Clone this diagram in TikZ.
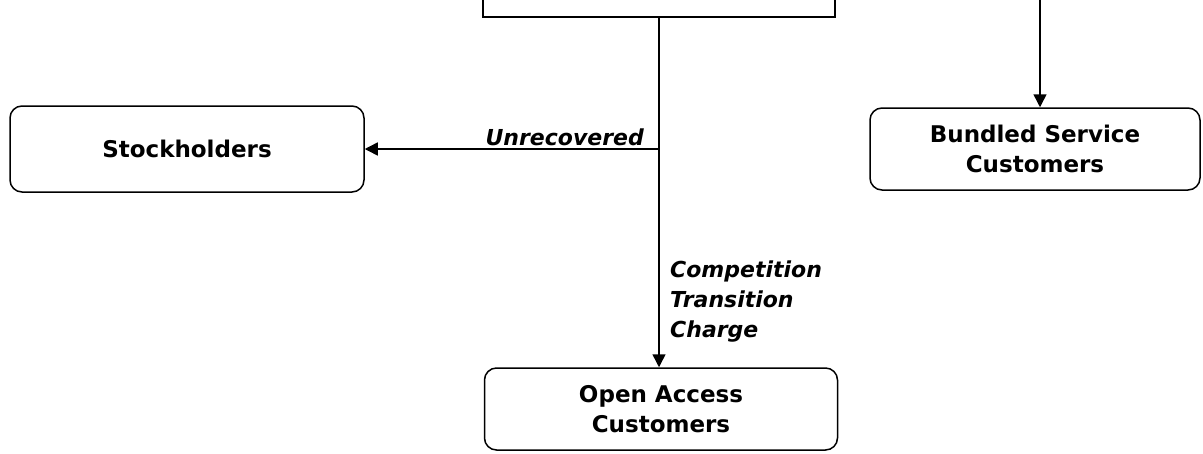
\documentclass[tikz,border=0pt]{standalone}
\usepackage{fontspec}
\setsansfont{DejaVu Sans}
\usetikzlibrary{arrows.meta,positioning}
\definecolor{ink}{HTML}{000000}
\tikzset{
  box/.style={draw=ink,line width=1.5pt,rounded corners=12pt,fill=white,align=center,
    font=\sffamily\bfseries\fontsize{23}{30}\selectfont,inner sep=0pt},
  sqbox/.style={draw=ink,line width=1.5pt,fill=white,inner sep=0pt},
  lbl/.style={font=\sffamily\bfseries\itshape\fontsize{22}{30}\selectfont,text=ink,inner sep=0pt},
  ar/.style={-{Triangle[length=13pt,width=13pt]},draw=ink,line width=1.5pt},
}
\begin{document}
\begin{tikzpicture}[x=1pt,y=-1pt]
  \useasboundingbox (0,0) rectangle (1203,453);
  \clip (0,0) rectangle (1203,453);
  % ── boxes ──
  \node[sqbox,minimum width=352pt,minimum height=94pt] (src) at (659,-30) {};
  \node[box,minimum width=354pt,minimum height=86pt] (stock) at (187,149) {Stockholders};
  \node[box,minimum width=330pt,minimum height=82pt] (bund) at (1035,149) {Bundled Service\\Customers};
  \node[box,minimum width=353pt,minimum height=82pt] (open) at (661,409) {Open Access\\Customers};
  % ── connectors ──
  \coordinate (junc) at (src.south |- stock.east);
  \coordinate (bin) at (1040,-5);
  \draw[ar] (src.south) -- (src.south |- open.north);
  \draw[ar] (junc) -- (stock.east);
  \draw[ar] (bin) -- (bin |- bund.north);
  % ── labels ──
  \node[lbl,anchor=base east,xshift=-15pt,yshift=4pt] (unrec) at (junc) {Unrecovered};
  \node[lbl,align=left,anchor=north west] (cost) at (670,261) {Competition\\Transition\\Charge};
\end{tikzpicture}
\end{document}
